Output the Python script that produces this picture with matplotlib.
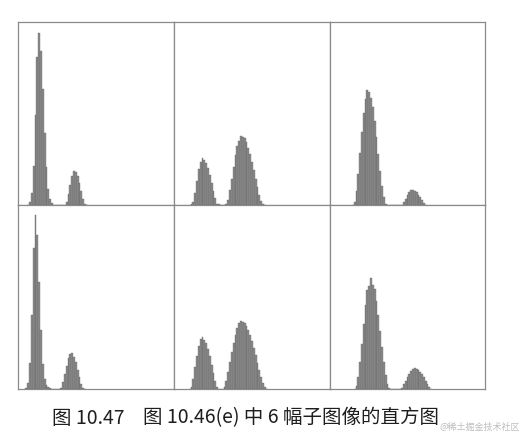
import matplotlib
matplotlib.use("Agg")
import matplotlib.pyplot as plt
import numpy as np

plt.rcParams["font.family"] = ["Noto Sans CJK SC", "DejaVu Sans"]

# ─────────── 数据：6 幅子图像的灰度直方图 ───────────
# 每柱宽 3 个灰度级；start 为第一柱的灰度级，值为占纵轴满刻度的百分比
BIN = 3
LEVEL_MAX = 255

h1_start = 15
h1 = [0.2, 1.4, 6.5, 21.2, 49.2, 80.7, 93.8, 84.4, 63.4, 39.6, 20.5, 8.9, 3.2, 0.9,
      0, 0, 0, 0, 0, 0,
      0.1, 1.7, 5.9, 11.1, 15.8, 18.7, 18.3, 15.9, 11.9, 7.4, 3.3, 0.6, 0.1]

h2_start = 27
h2 = [0.3, 1.5, 6.8, 13.3, 19.5, 23.5, 25.7, 24.5, 23.0, 20.4, 16.6, 12.2, 7.7, 3.7, 0.7, 0.3,
      0, 0, 0,
      0.4, 2.8, 8.0, 14.4, 20.9, 27.1, 32.2, 34.8, 37.7, 36.9, 36.4, 34.3, 31.4, 27.7,
      23.4, 18.9, 14.2, 9.6, 5.5, 2.1, 0.4, 0.2]

h3_start = 36
h3 = [0.2, 1.8, 7.8, 17.0, 28.3, 40.0, 50.5, 57.8, 62.8, 61.8, 58.5, 53.7, 46.0, 37.1,
      27.6, 18.4, 10.5, 4.4, 0.8, 0.2,
      0, 0, 0, 0, 0, 0, 0,
      0.1, 1.5, 3.4, 5.4, 7.1, 8.0, 8.2, 7.7, 6.9, 5.7, 4.2, 2.7, 1.3, 0.2]

h4_start = 12
h4 = [0.5, 3.1, 13.9, 40.4, 76.4, 94.6, 83.8, 58.3, 31.9, 13.6, 5.7, 2.4, 0.9, 0.3,
      0, 0, 0, 0,
      0.1, 0.8, 3.6, 8.0, 12.7, 16.7, 19.0, 19.4, 17.6, 14.5, 10.5, 6.4, 2.9, 0.7, 0.1]

h5_start = 24
h5 = [0.2, 0.9, 5.6, 11.8, 18.1, 23.5, 27.0, 28.1, 26.5, 25.2, 22.0, 17.9, 13.3, 8.6, 4.3, 1.0, 0.2,
      0,
      0.2, 1.1, 4.6, 9.3, 14.5, 19.9, 25.0, 29.5, 33.2, 35.6, 37.0, 36.2, 36.0, 34.4, 32.2,
      29.3, 26.0, 22.2, 18.3, 14.2, 10.2, 6.6, 3.3, 0.9, 0.2]

h6_start = 39
h6 = [0.2, 1.4, 6.4, 14.6, 24.7, 35.5, 45.6, 53.8, 56.0, 60.2, 56.5, 54.3, 48.0, 40.2,
      31.6, 22.8, 14.6, 7.8, 2.9, 0.5, 0.2,
      0, 0, 0, 0,
      0.1, 0.8, 2.5, 4.4, 6.5, 8.3, 9.8, 10.8, 11.2, 11.0, 10.4, 9.3, 7.9, 6.3, 4.5, 2.8, 1.3, 0.2]

starts = [h1_start, h2_start, h3_start, h4_start, h5_start, h6_start]
hists = [h1, h2, h3, h4, h5, h6]

caption_no = "图 10.47"
caption = "图 10.46(e) 中 6 幅子图像的直方图"
watermark = "@稀土掘金技术社区"

# ─────────── 版面（像素） ───────────
W, H = 524, 436
col_x = [18, 174, 330, 485]
row_y = [22, 205, 389]

fig = plt.figure(figsize=(W / 100, H / 100), dpi=100)
fig.patch.set_facecolor("white")

for i, (start, vals) in enumerate(zip(starts, hists)):
    r, c = divmod(i, 3)
    x0, x1 = col_x[c], col_x[c + 1]
    y0, y1 = row_y[r], row_y[r + 1]
    ax = fig.add_axes([x0 / W, 1 - y1 / H, (x1 - x0) / W, (y1 - y0) / H])
    levels = start + BIN * np.arange(len(vals))
    ax.bar(levels, vals, width=BIN, align="edge",
           color="#8d8d8d", edgecolor="#5e5e5e", linewidth=0.25)
    ax.set_xlim(0, LEVEL_MAX)
    ax.set_ylim(0, 100)
    ax.set_xticks([])
    ax.set_yticks([])
    for sp in ax.spines.values():
        sp.set_color("#8a8a8a")
        sp.set_linewidth(0.9)

# 图题：编号与正文之间留较大空白
fig.text(52 / W, 1 - 418 / H, caption_no, ha="left", va="center",
         fontsize=14, color="#1e1e1e")
fig.text(143 / W, 1 - 418 / H, caption, ha="left", va="center",
         fontsize=14, color="#1e1e1e")
# 水印：靠右下，避免压住图题
fig.text(520 / W, 1 - 427 / H, watermark, ha="right", va="center",
         fontsize=6.5, color="#bdbdbd")

fig.savefig("out.png", dpi=100, facecolor="white")
